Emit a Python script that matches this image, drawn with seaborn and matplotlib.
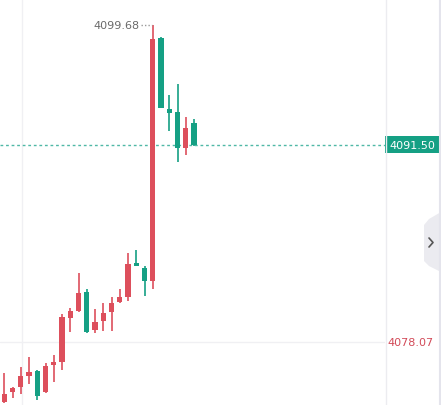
import matplotlib
matplotlib.use("Agg")
import matplotlib.pyplot as plt
import matplotlib.transforms as mtransforms
from matplotlib.patches import Rectangle, Polygon
import seaborn as sns
import pandas as pd

# valores (candles de 1 minuto)
opens = [4073.98, 4074.66, 4075.00, 4075.75, 4076.09, 4074.66, 4076.50, 4076.71,
         4079.71, 4080.18, 4081.48, 4078.89, 4079.50, 4080.12, 4080.80, 4081.14,
         4083.46, 4083.12, 4082.23, 4098.79, 4093.95, 4093.75, 4091.30, 4093.00]
highs = [4075.96, 4075.00, 4076.37, 4077.05, 4076.16, 4076.64, 4077.19, 4079.98,
         4080.39, 4082.77, 4081.68, 4080.32, 4080.73, 4081.14, 4081.68, 4084.14,
         4084.34, 4083.25, 4099.68, 4098.85, 4094.91, 4095.66, 4093.41, 4093.27]
lows = [4073.90, 4074.25, 4074.53, 4075.21, 4074.12, 4074.60, 4075.34, 4076.16,
        4078.75, 4080.15, 4078.72, 4078.68, 4078.82, 4078.82, 4080.73, 4080.87,
        4083.22, 4081.21, 4081.68, 4094.00, 4092.45, 4090.34, 4090.82, 4091.45]
closes = [4074.53, 4074.94, 4075.75, 4076.03, 4074.39, 4076.44, 4076.71, 4079.78,
          4080.18, 4081.41, 4078.75, 4079.43, 4080.05, 4080.73, 4081.14, 4083.39,
          4083.25, 4082.23, 4098.73, 4094.02, 4093.68, 4091.30, 4092.66, 4091.50]

last_price = 4091.50
high_label = 4099.68
low_label = 4078.07

UP = "#dd4f5c"
DOWN = "#15a084"

df = pd.DataFrame({"open": opens, "high": highs, "low": lows, "close": closes})
df["i"] = range(len(df))
df["cor"] = [UP if c >= o else DOWN for o, c in zip(df["open"], df["close"])]

sns.set_theme(style="white")
plt.rcParams["font.family"] = ["DejaVu Sans"]

W, H = 441, 406
fig = plt.figure(figsize=(W / 100, H / 100), dpi=100)
fig.patch.set_facecolor("white")
ax = fig.add_axes([0, 0, 385 / W, 1])
ax.set_xlim(-0.52, 46.15)
ax.set_ylim(4073.78, 4101.45)
ax.axis("off")

# grade fraca
ax.axhline(low_label, color="#f0f0f3", lw=1, zorder=0)
ax.axvline(2.15, color="#f0f0f3", lw=1, zorder=0)

# pavios e corpos
ax.vlines(df["i"], df["low"], df["high"], colors=df["cor"], lw=1.2, zorder=2)
corpo = (df["close"] - df["open"]).abs().clip(lower=0.08)
base = df[["open", "close"]].min(axis=1)
ax.bar(df["i"], corpo, bottom=base, width=0.62, color=df["cor"], zorder=3, linewidth=0)

# linha do último preço
ax.axhline(last_price, color="#4fb8a6", lw=1, ls=(0, (2, 2)), zorder=1)

# marcador da máxima
imax = df["high"].idxmax()
ax.plot([16.6, imax - 0.1], [high_label, high_label], color="#9a9a9a", lw=1, ls=(0, (1, 1.5)))
ax.text(16.35, high_label, f"{high_label:.2f}", ha="right", va="center",
        fontsize=8, color="#6a6a6a")

# escala de preço à direita
trans = mtransforms.blended_transform_factory(fig.transFigure, ax.transData)
fig.add_artist(plt.Line2D([385.5 / W, 385.5 / W], [0, 1], color="#ececf0", lw=1))
fig.add_artist(plt.Line2D([440.3 / W, 440.3 / W], [0, 1], color="#e4e4ec", lw=1.5))

yl = ax.transData.transform((0, last_price))[1]
fig.add_artist(Rectangle((385 / W, (yl - 8.5) / H), 54 / W, 17 / H,
                         transform=fig.transFigure, color=DOWN, lw=0))
fig.text(412 / W, yl / H, f"{last_price:.2f}", ha="center", va="center",
         fontsize=8, color="white")
fig.text(411 / W, 0, f"{low_label:.2f}", transform=trans, ha="center", va="center",
         fontsize=8, color="#d24a58")
# reposicionar o texto da mínima no y do dado
fig.texts[-1].set_position((411 / W, low_label))

# aba lateral com seta
pts = [(441, 213), (429, 220), (424, 226), (424, 262), (429, 267), (441, 273)]
fig.add_artist(Polygon([(x / W, 1 - y / H) for x, y in pts], closed=True,
                       transform=fig.transFigure, color="#ebebf0", lw=0))
seta = [(429, 239), (433, 243.5), (429, 248)]
fig.add_artist(plt.Line2D([x / W for x, y in seta], [1 - y / H for x, y in seta],
                          color="#555555", lw=1.2))

fig.savefig("out.png", dpi=100)
plt.close(fig)
